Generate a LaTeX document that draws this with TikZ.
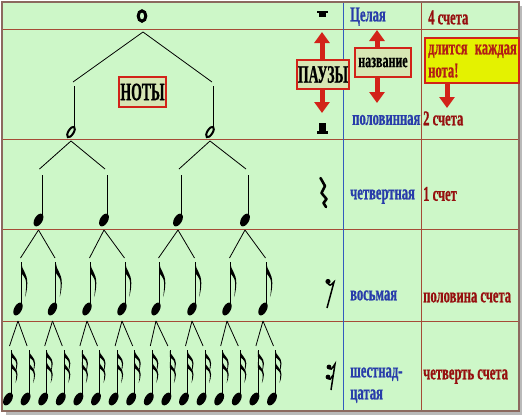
\documentclass[tikz,border=0pt]{standalone}
\usepackage{fontspec}
\setmainfont{Liberation Serif}
\newfontfamily\labfont[FakeStretch=0.6,FakeBold=0.7]{Liberation Serif}
\newfontfamily\capfont[FakeStretch=0.55,FakeBold=0.8]{Liberation Serif}
\usetikzlibrary{arrows.meta,positioning}

\definecolor{bggreen}{RGB}{205,247,200}
\definecolor{gridred}{RGB}{165,75,55}
\definecolor{gridblue}{RGB}{50,90,190}
\definecolor{txtblue}{RGB}{40,60,170}
\definecolor{txtred}{RGB}{150,15,15}
\definecolor{boxred}{RGB}{210,35,25}
\definecolor{boxfill}{RGB}{215,230,180}
\definecolor{hintyellow}{RGB}{228,242,0}
\definecolor{framebrown}{RGB}{140,105,95}

\tikzset{
  namebox/.style={draw=boxred, line width=1.6pt, fill=boxfill, inner sep=0pt,
    font=\capfont\bfseries\fontsize{25}{25}\selectfont},
  smallbox/.style={draw=boxred, line width=1.6pt, fill=boxfill, inner sep=0pt,
    font=\labfont\bfseries\fontsize{20}{20}\selectfont},
  bluelab/.style={text=txtblue, anchor=mid west, inner sep=0pt,
    font=\labfont\bfseries\fontsize{21}{21}\selectfont},
  redlab/.style={text=txtred, anchor=mid west, inner sep=0pt,
    font=\labfont\bfseries\fontsize{21}{21}\selectfont},
  hintlab/.style={text=boxred!85!black, inner sep=0pt,
    font=\labfont\bfseries\fontsize{21}{21}\selectfont},
  bigarrow/.style={draw=boxred, line width=5pt, -{Triangle[width=15pt,length=11pt]}},
  leg/.style={line width=0.8pt},
  stem/.style={line width=0.8pt},
  eflag/.pic={\fill (0,0) .. controls (0.5,7) and (6,10) .. (6,20)
      .. controls (6,25) and (5,30) .. (4,34) .. controls (4.5,28) and (5,24) .. (4.8,20)
      .. controls (4.5,13) and (0,12) .. (0,9) -- cycle;}
}

\begin{document}
\begin{tikzpicture}[x=1pt,y=-1pt]
\useasboundingbox (0,0) rectangle (523,418);

% frame
\fill[gray!55] (6,6) rectangle (522,415);
\fill[bggreen] (2,2) rectangle (519,411);
\foreach \y in {29,139,229,321}
  \draw[gridred, line width=1pt] (2,\y) -- (519,\y);
\draw[gridblue, line width=0.9pt] (343,2) -- (343,411);
\draw[gridred, line width=0.9pt] (421,2) -- (421,411);
\draw[framebrown, line width=1.5pt] (2,2) rectangle (519,411);

% whole note
\draw[line width=3pt] (142,16) ellipse (3.8 and 5.2);
\coordinate (w) at (143,32);

% half notes
\foreach \i/\x in {1/71,2/210} {
  \draw[line width=2pt, rotate around={58:(\x,132)}] (\x,132) ellipse (6 and 2.6);
  \draw[stem] (\x+3.8,128) -- (\x+3.8,86);
  \coordinate (h\i) at (\x+2,82);
  \coordinate (h\i b) at (\x,141);
  \draw[leg] (w) -- (h\i);
}

% quarter notes
\foreach \i/\x/\p in {1/38.5/1,2/104/1,3/178/2,4/245/2} {
  \fill[rotate around={60:(\x,220)}] (\x,220) ellipse (7 and 4);
  \draw[stem] (\x+3.5,217) -- (\x+3.5,175);
  \coordinate (q\i) at (\x+1,169);
  \coordinate (q\i b) at (\x,230);
  \draw[leg] (h\p b) -- (q\i);
}

% eighth notes
\foreach \i/\x/\p in {1/18/1,2/52.5/1,3/87/2,4/122/2,5/156/3,6/192/3,7/227/4,8/263/4} {
  \fill[rotate around={62:(\x,309)}] (\x,309) ellipse (7 and 3.8);
  \draw[stem] (\x+3.3,306) -- (\x+3.3,262);
  \pic at (\x+3.3,263) {eflag};
  \coordinate (e\i) at (\x+2.5,258);
  \coordinate (e\i b) at (\x,321);
  \draw[leg] (q\p b) -- (e\i);
}

% sixteenth notes
\foreach \i in {0,...,15} {
  \pgfmathsetmacro\sx{8+17.6*\i}
  \pgfmathtruncatemacro\p{\i/2+1}
  \fill[rotate around={60:(\sx,399)}] (\sx,399) ellipse (7 and 4);
  \draw[stem] (\sx+3.5,396) -- (\sx+3.5,350);
  \pic[yscale=0.62] at (\sx+3.5,351) {eflag};
  \pic[yscale=0.62] at (\sx+3.5,362) {eflag};
  \coordinate (s\i) at (\sx+1.5,346);
  \draw[leg] (e\p b) -- (s\i);
}

% rests
\fill (317,11) rectangle (328,12.5);
\fill (319,12) rectangle (326,17);
\fill (319,123) rectangle (326,131);
\fill (317,131) rectangle (328,133.5);
\draw[line width=2.6pt, line join=round, line cap=round]
  (320.5,178) -- (325,186) -- (321.5,193) -- (326.5,199) -- (323.5,203) -- (326,207);
\fill (328,281.5) circle (2.6);
\draw[line width=1.5pt] (327.5,283) .. controls (330,286) .. (334,282) -- (327,308);
\fill (329,367) circle (2.4);
\fill (328,377) circle (2.4);
\draw[line width=1.5pt] (329,368.5) .. controls (331,370) .. (335,364) -- (331,390);
\draw[line width=1.5pt] (328,378.5) .. controls (330,380) .. (333,375);

% labels and arrows
\node[namebox, minimum width=47pt, minimum height=30pt] (noty) at (142.5,92) {НОТЫ};
\node[namebox, minimum width=52pt, minimum height=29pt] (pauzy) at (323,74.5) {ПАУЗЫ};
\node[smallbox, minimum width=56pt, minimum height=29pt] (nazv) at (383,62.5) {название};
\node[draw=boxred, line width=1.6pt, fill=hintyellow, minimum width=94pt, minimum height=45pt,
  inner sep=0pt] (hint) at (472,60.5) {};
\node[hintlab, anchor=mid west] (hint1) at (428,52) {длится};
\node[hintlab, anchor=mid east] (hint2) at (517,52) {каждая};
\node[hintlab, anchor=mid west] (hint3) at (428,75) {нота!};

\coordinate (pauzyup) at (322,32);
\coordinate (pauzydn) at (322,113);
\coordinate (nazvup) at (377,30);
\coordinate (nazvdn) at (377,103);
\coordinate (hintdn) at (447,108);
\draw[bigarrow] (pauzy.north -| pauzyup) -- (pauzyup);
\draw[bigarrow] (pauzy.south -| pauzydn) -- (pauzydn);
\draw[bigarrow] (nazv.north -| nazvup) -- (nazvup);
\draw[bigarrow] (nazv.south -| nazvdn) -- (nazvdn);
\draw[bigarrow] (hint.south -| hintdn) -- (hintdn);

\node[bluelab] (n1) at (350,19) {Целая};
\node[bluelab] (n2) at (352,122.5) {половинная};
\node[bluelab] (n3) at (350,197) {четвертная};
\node[bluelab] (n4) at (350,298) {восьмая};
\node[bluelab] (n5) at (350,375) {шестнад-};
\node[bluelab] (n6) at (350,397) {цатая};

\node[redlab] (d1) at (428,22) {4 счета};
\node[redlab] (d2) at (423,123) {2 счета};
\node[redlab] (d3) at (423,198.5) {1 счет};
\node[redlab] (d4) at (423,300) {половина счета};
\node[redlab] (d5) at (423,377) {четверть счета};
\end{tikzpicture}
\end{document}
